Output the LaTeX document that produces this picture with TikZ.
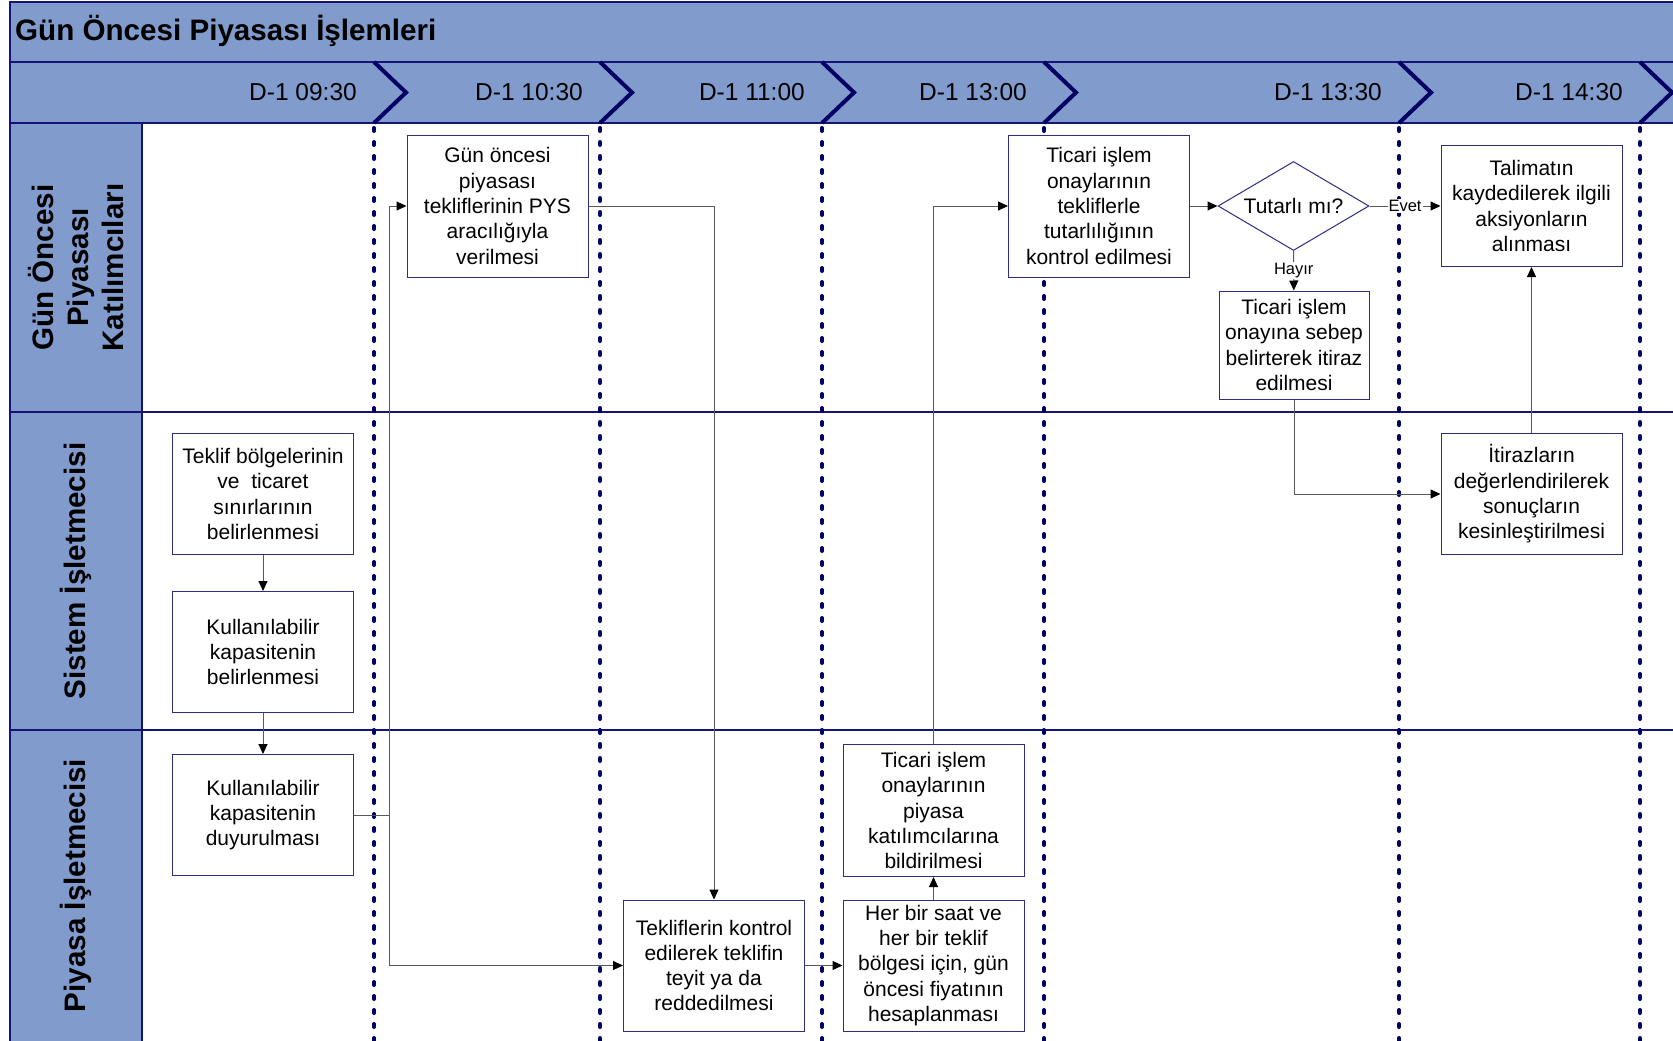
\documentclass[tikz,border=0pt]{standalone}
\usepackage{fontspec}
\setmainfont{Liberation Sans}
\usetikzlibrary{positioning, arrows.meta, shapes.geometric}
\definecolor{laneblue}{RGB}{128,155,204}
\definecolor{navyline}{RGB}{20,20,120}
\definecolor{dotnavy}{RGB}{0,0,100}
\definecolor{boxline}{RGB}{45,45,135}

\begin{document}
\begin{tikzpicture}[
		x=1pt, y=-1pt,
		>={Triangle[length=10pt, width=9pt, color=black]},
		band/.style={fill=laneblue, draw=navyline, line width=1.2pt},
		chevron/.style={draw=dotnavy, line width=4pt},
		timeline/.style={draw=dotnavy, line width=4pt, line cap=round, dash pattern=on 3pt off 11pt},
		box/.style={draw=boxline, fill=white, line width=1pt, minimum width=181pt, minimum height=121pt, inner sep=2pt, align=center, font=\fontsize{21}{25.3}\selectfont},
		flow/.style={draw=black!65, line width=1pt},
		lanelabel/.style={rotate=90, align=center, font=\bfseries\fontsize{29.6}{35}\selectfont},
		timelabel/.style={anchor=east, inner sep=0pt, font=\fontsize{24.5}{29}\selectfont},
		choice/.style={fill=white, inner sep=1pt, font=\fontsize{16.5}{19}\selectfont}
	]

	\useasboundingbox (0,0) rectangle (1673,1041);
	\clip (0,0) rectangle (1673,1041);

	\draw[band] (10,2) rectangle (1690,62);
	\draw[band] (10,62) rectangle (1690,123);
	\draw[band] (10,123) rectangle (142,1060);
	\draw[navyline, line width=1.2pt] (10,412) -- (1690,412);
	\draw[navyline, line width=1.2pt] (10,730) -- (1690,730);

	\node[anchor=base west, inner sep=0pt, font=\bfseries\fontsize{29.6}{35}\selectfont] (title) at (15,41) {Gün Öncesi Piyasası İşlemleri};

	\node[lanelabel] (katilimci) at (76,267.5) {Gün Öncesi\\Piyasası\\Katılımcıları};
	\node[lanelabel] (sistem) at (76,571) {Sistem İşletmecisi};
	\node[lanelabel] (piyasa) at (76,885.5) {Piyasa İşletmecisi};

	\node[timelabel] (t0930) at (357,92.5) {D-1 09:30};
	\node[timelabel] (t1030) at (583,92.5) {D-1 10:30};
	\node[timelabel] (t1100) at (805,92.5) {D-1 11:00};
	\node[timelabel] (t1300) at (1027,92.5) {D-1 13:00};
	\node[timelabel] (t1330) at (1382,92.5) {D-1 13:30};
	\node[timelabel] (t1430) at (1623,92.5) {D-1 14:30};

	\draw[chevron] (374,62) -- (406,92.5) -- (374,123);
	\draw[chevron] (600,62) -- (632,92.5) -- (600,123);
	\draw[chevron] (822,62) -- (854,92.5) -- (822,123);
	\draw[chevron] (1044,62) -- (1076,92.5) -- (1044,123);
	\draw[chevron] (1399,62) -- (1431,92.5) -- (1399,123);
	\draw[chevron] (1640,62) -- (1672,92.5) -- (1640,123);
	\draw[timeline] (374,128) -- (374,1045);
	\draw[timeline] (600,128) -- (600,1045);
	\draw[timeline] (822,128) -- (822,1045);
	\draw[timeline] (1044,128) -- (1044,1045);
	\draw[timeline] (1399,128) -- (1399,1045);
	\draw[timeline] (1640,128) -- (1640,1045);

	\node[box] (teklifbolge) at (263,494) {Teklif bölgelerinin\\ve~~ticaret\\sınırlarının\\belirlenmesi};
	\node[box] (kapbel) at (263,652) {Kullanılabilir\\kapasitenin\\belirlenmesi};
	\node[box] (kapduy) at (263,815) {Kullanılabilir\\kapasitenin\\duyurulması};
	\node[box, minimum height=142pt] (gunoncesi) at (497.5,206) {Gün öncesi\\piyasası\\tekliflerinin PYS\\aracılığıyla\\verilmesi};
	\node[box, minimum height=142pt] (kontrol) at (1099,206) {Ticari işlem\\onaylarının\\tekliflerle\\tutarlılığının\\kontrol edilmesi};
	\node[box, diamond, aspect=1.7, minimum width=151pt, minimum height=89pt, inner sep=0pt] (tutarli) at (1293.5,206) {Tutarlı mı?};
	\node[box] (talimat) at (1531.5,206) {Talimatın\\kaydedilerek ilgili\\aksiyonların\\alınması};
	\node[box, minimum width=150pt, minimum height=108pt] (itiraz) at (1294,345) {Ticari işlem\\onayına sebep\\belirterek itiraz\\edilmesi};
	\node[box] (itirazlar) at (1531.5,494) {İtirazların\\değerlendirilerek\\sonuçların\\kesinleştirilmesi};
	\node[box, minimum height=132pt] (bildir) at (933.5,810.5) {Ticari işlem\\onaylarının\\piyasa\\katılımcılarına\\bildirilmesi};
	\node[box, minimum height=131pt] (teklifkontrol) at (714,965.5) {Tekliflerin kontrol\\edilerek teklifin\\teyit ya da\\reddedilmesi};
	\node[box, minimum height=131pt] (hesap) at (933.5,965.5) {Her bir saat ve\\her bir teklif\\bölgesi için, gün\\öncesi fiyatının\\hesaplanması};

	\coordinate (ayrim) at (389,815);
	\draw[flow, ->] (teklifbolge) -- (kapbel);
	\draw[flow, ->] (kapbel) -- (kapduy);
	\draw[flow] (kapduy.east) -- (ayrim);
	\draw[flow, ->] (ayrim) |- (gunoncesi.west);
	\draw[flow, ->] (ayrim) |- (teklifkontrol.west);
	\draw[flow, ->] (gunoncesi.east) -| (teklifkontrol.north);
	\draw[flow, ->] (teklifkontrol) -- (hesap);
	\draw[flow, ->] (hesap) -- (bildir);
	\draw[flow, ->] (bildir.north) |- (kontrol.west);
	\draw[flow, ->] (kontrol) -- (tutarli);
	\draw[flow, ->] (tutarli) -- node[choice] {Evet} (talimat);
	\draw[flow, ->] (tutarli) -- node[choice] {Hayır} (itiraz);
	\draw[flow, ->] (itiraz.south) |- (itirazlar.west);
	\draw[flow, ->] (itirazlar) -- (talimat);

\end{tikzpicture}
\end{document}
